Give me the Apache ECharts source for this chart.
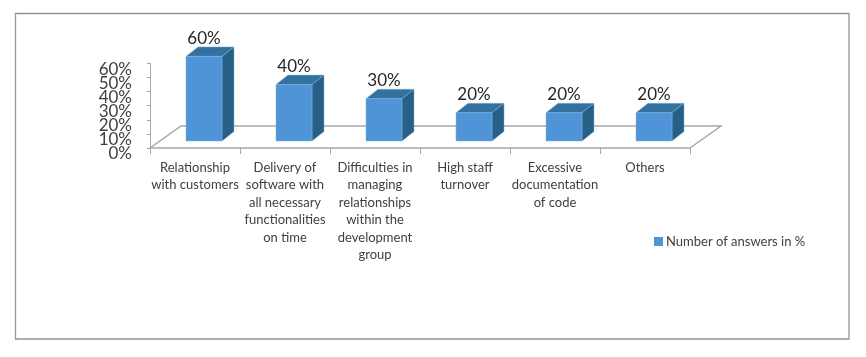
<!DOCTYPE html>
<html>
<head>
<meta charset="utf-8">
<style>
  html, body { margin: 0; padding: 0; background: #fff; }
  #chart { width: 866px; height: 357px; }
</style>
</head>
<body>
<div id="chart"></div>
<script src="https://cdn.jsdelivr.net/npm/echarts@6/dist/echarts.min.js"></script>
<script>
const categories = [
  'Relationship\nwith customers',
  'Delivery of\nsoftware with\nall necessary\nfunctionalities\non time',
  'Difficulties in\nmanaging\nrelationships\nwithin the\ndevelopment\ngroup',
  'High staff\nturnover',
  'Excessive\ndocumentation\nof code',
  'Others',
];
const answers = [60, 40, 30, 20, 20, 20];
// tick labels overlap a little, so they are split over two axes or echarts drops some
const yTicksEven = [0, 20, 40, 60];
const yTicksOdd = [10, 30, 50];
const seriesName = 'Number of answers in %';

const FONT = 'Lato, "Liberation Sans", sans-serif';
const FRONT = '#4f94d6';
const TOP = '#33729f';
const SIDE = '#275f86';
const FLOOR = '#a6a6a6';

// fake 3d offsets
const DEPTH_X = 12;
const DEPTH_Y = 9.5;
const FLOOR_X = 31;
const FLOOR_Y = 22;
const BAR_SHIFT_X = 9;
const BAR_SHIFT_Y = 7;
const BAR_W = 36;

const chart = echarts.init(document.getElementById('chart'));

function poly(points, fill) {
  return { type: 'polygon', shape: { points }, style: { fill, stroke: '#7fb2e0', lineWidth: 0.5 } };
}

function renderBar(params, api) {
  const base = api.coord([api.value(0), 0]);
  const head = api.coord([api.value(0), api.value(1)]);
  const l = base[0] + BAR_SHIFT_X - BAR_W / 2;
  const r = l + BAR_W;
  const b = base[1] - BAR_SHIFT_Y;
  const t = head[1] - BAR_SHIFT_Y;
  return {
    type: 'group',
    children: [
      poly([[l, t], [r, t], [r + DEPTH_X, t - DEPTH_Y], [l + DEPTH_X, t - DEPTH_Y]], TOP),
      poly([[r, t], [r + DEPTH_X, t - DEPTH_Y], [r + DEPTH_X, b - DEPTH_Y], [r, b]], SIDE),
      poly([[l, t], [r, t], [r, b], [l, b]], FRONT),
      {
        type: 'text',
        style: {
          x: (l + r) / 2,
          y: t - DEPTH_Y,
          text: api.value(1) + '%',
          font: '17px ' + FONT,
          fill: '#262626',
          align: 'center',
          verticalAlign: 'bottom',
        },
      },
    ],
  };
}

function renderFloor(params, api) {
  const gs = params.coordSys;
  const x0 = gs.x;
  const x1 = gs.x + gs.width;
  const y = api.coord([0, 0])[1];
  return {
    type: 'polyline',
    shape: {
      points: [[x0, y], [x0 + FLOOR_X, y - FLOOR_Y], [x1 + FLOOR_X, y - FLOOR_Y], [x1, y]],
    },
    style: { fill: 'none', stroke: FLOOR, lineWidth: 1.5 },
  };
}

function yLabels(values) {
  return {
    margin: 18,
    verticalAlign: 'top',
    customValues: values,
    showMinLabel: true,
    showMaxLabel: true,
    formatter: '{tick|{value}%}',
    rich: {
      tick: { fontFamily: FONT, fontSize: 17, height: 12, lineHeight: 12, color: '#404040' },
    },
  };
}

chart.setOption({
  animation: false,
  textStyle: { fontFamily: FONT },
  graphic: [
    {
      type: 'rect',
      shape: { x: 15.5, y: 13.5, width: 833.5, height: 325.5 },
      style: { fill: 'none', stroke: '#959595', lineWidth: 1.3 },
      silent: true,
    },
  ],
  grid: { left: 150, top: 63.4, width: 540, height: 84.6 },
  legend: {
    left: 649,
    top: 230,
    itemWidth: 9,
    itemHeight: 9,
    itemGap: 0,
    icon: 'rect',
    data: [{ name: seriesName, itemStyle: { color: FRONT } }],
    textStyle: { fontFamily: FONT, fontSize: 13, color: '#404040', padding: [0, 0, 0, -2] },
  },
  xAxis: {
    type: 'category',
    data: categories,
    axisLine: { onZero: false, lineStyle: { color: FLOOR, width: 1.5 } },
    axisTick: { show: true, alignWithLabel: false, length: 6, lineStyle: { color: FLOOR } },
    axisLabel: {
      interval: 0,
      margin: 11,
      fontFamily: FONT,
      fontSize: 13,
      lineHeight: 17.5,
      color: '#404040',
    },
  },
  yAxis: [
    {
      type: 'value',
      min: 0,
      max: 60,
      interval: 10,
      splitLine: { show: false },
      axisLine: { show: true, onZero: false, lineStyle: { color: FLOOR } },
      axisTick: { show: true, length: 3, lineStyle: { color: FLOOR } },
      axisLabel: yLabels(yTicksEven),
    },
    {
      type: 'value',
      position: 'left',
      min: 0,
      max: 60,
      interval: 10,
      splitLine: { show: false },
      axisLine: { show: false, onZero: false },
      axisTick: { show: false },
      axisLabel: yLabels(yTicksOdd),
    },
  ],
  series: [
    {
      type: 'custom',
      silent: true,
      z: 1,
      renderItem: renderFloor,
      data: [[0, 0]],
      encode: { x: 0, y: 1 },
      name: 'floor',
    },
    {
      name: seriesName,
      type: 'custom',
      z: 2,
      renderItem: renderBar,
      itemStyle: { color: FRONT },
      encode: { x: 0, y: 1 },
      data: answers.map((v, i) => [i, v]),
    },
  ],
});

window.addEventListener('resize', () => chart.resize());
</script>
</body>
</html>
